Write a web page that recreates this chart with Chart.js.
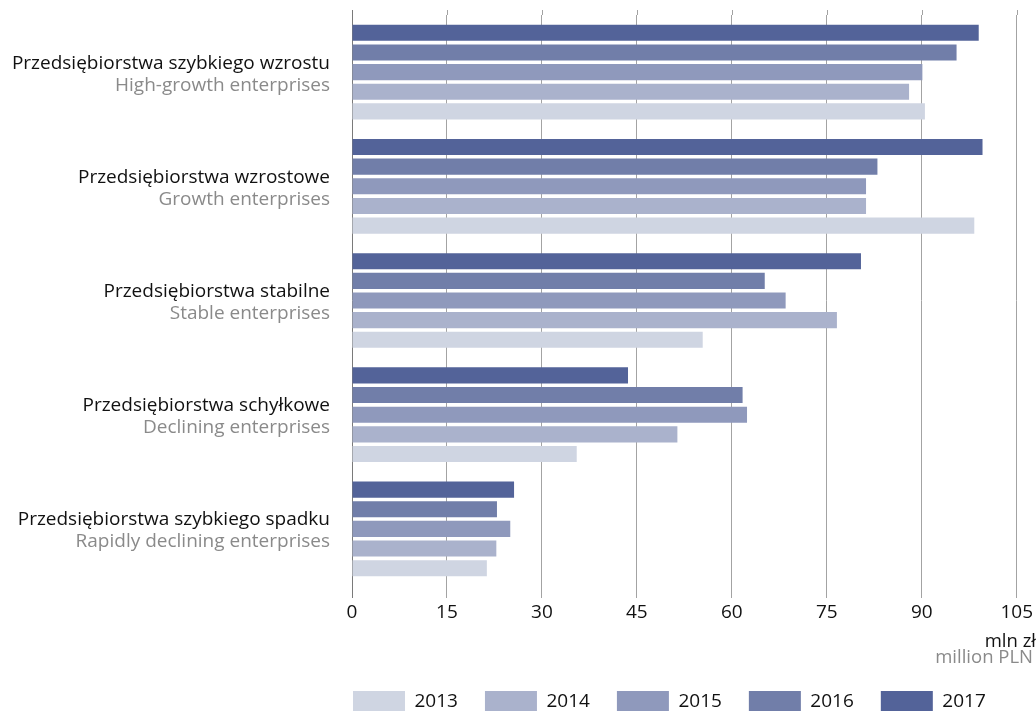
<!DOCTYPE html>
<html>
<head>
<meta charset="utf-8">
<script src="https://cdn.jsdelivr.net/npm/chart.js@4"></script>
<style>
  html, body { margin: 0; padding: 0; background: #fff; }
  #wrap { width: 1036px; height: 711px; }
</style>
</head>
<body>
<div id="wrap"><canvas id="enterprisesChart"></canvas></div>
<script>
const categoriesPl = ['Przedsiębiorstwa szybkiego wzrostu', 'Przedsiębiorstwa wzrostowe', 'Przedsiębiorstwa stabilne', 'Przedsiębiorstwa schyłkowe', 'Przedsiębiorstwa szybkiego spadku']
const categoriesEn = ['High-growth enterprises', 'Growth enterprises', 'Stable enterprises', 'Declining enterprises', 'Rapidly declining enterprises']

const values2013 = [90.5, 98.3, 55.4, 35.5, 21.3]
const values2014 = [88.0, 81.2, 76.6, 51.4, 22.8]
const values2015 = [90.1, 81.2, 68.5, 62.4, 25.0]
const values2016 = [95.5, 83.0, 65.2, 61.7, 22.9]
const values2017 = [99.0, 99.6, 80.4, 43.6, 25.6]

const xTicks = [0, 15, 30, 45, 60, 75, 90, 105]
const unitPl = 'mln zł'
const unitEn = 'million PLN'

const FONT = '"Open Sans", sans-serif'

// two-colour category labels, unit label, gridlines running a bit above the bars
const labelsPlugin = {
    id: 'labelsPlugin',
    beforeDatasetsDraw(chart) {
        const {ctx, chartArea, scales: {x}} = chart
        ctx.save()
        ctx.lineWidth = 1
        x.ticks.forEach((t, i) => {
            const px = Math.round(x.getPixelForValue(t.value)) + 0.5
            ctx.strokeStyle = i === 0 ? '#7a7a7a' : '#a3a3a3'
            ctx.beginPath()
            ctx.moveTo(px, 10)
            ctx.lineTo(px, chartArea.top)
            ctx.stroke()
        })
        ctx.restore()
    },
    afterDraw(chart) {
        const {ctx, scales: {y}} = chart
        ctx.save()
        ctx.textAlign = 'right'
        ctx.textBaseline = 'alphabetic'
        ctx.font = '19px ' + FONT
        categoriesPl.forEach((name, i) => {
            const cy = y.getPixelForTick(i)
            ctx.fillStyle = '#111'
            ctx.fillText(name, 330, cy - 3.5)
            ctx.fillStyle = '#8a8a8a'
            ctx.fillText(categoriesEn[i], 330, cy + 18.5)
        })
        ctx.font = '18.5px ' + FONT
        ctx.fillStyle = '#111'
        ctx.fillText(unitPl, 1036, 647)
        ctx.fillStyle = '#8a8a8a'
        ctx.fillText(unitEn, 1033, 663)
        ctx.restore()
    }
}

const init = () => {
    const ctx = document.getElementById('enterprisesChart')

    new Chart(ctx, {
        type: 'bar',
        data: {
            labels: categoriesPl,
            datasets: [
                {label: '2017', data: values2017, backgroundColor: '#536399'},
                {label: '2016', data: values2016, backgroundColor: '#717ea9'},
                {label: '2015', data: values2015, backgroundColor: '#8f99bc'},
                {label: '2014', data: values2014, backgroundColor: '#aab2cc'},
                {label: '2013', data: values2013, backgroundColor: '#cfd5e2'},
            ]
        },
        options: {
            indexAxis: 'y',
            responsive: true,
            maintainAspectRatio: false,
            animation: false,
            datasets: {
                bar: {
                    categoryPercentage: 0.86,
                    barPercentage: 0.82,
                }
            },
            layout: {
                padding: {left: 326, right: 0, top: 15, bottom: -12}
            },
            scales: {
                x: {
                    min: 0,
                    max: 105,
                    afterBuildTicks: (scale) => {
                        scale.ticks = xTicks.map(v => ({value: v}))
                    },
                    afterFit: (scale) => {
                        scale.height = 78
                    },
                    border: {display: false},
                    grid: {
                        color: (c) => c.index === 0 ? '#7a7a7a' : '#a3a3a3',
                        lineWidth: 1,
                        tickLength: 12,
                    },
                    ticks: {
                        color: '#111',
                        font: {family: FONT, size: 19},
                        padding: 3,
                        maxRotation: 0,
                    }
                },
                y: {
                    afterFit: (scale) => {
                        scale.width = 26
                    },
                    border: {display: false},
                    grid: {display: false},
                    ticks: {display: false},
                }
            },
            plugins: {
                tooltip: {enabled: false},
                legend: {
                    position: 'bottom',
                    align: 'start',
                    reverse: true,
                    labels: {
                        boxWidth: 52,
                        boxHeight: 22,
                        padding: 27,
                        color: '#111',
                        font: {family: FONT, size: 19},
                    }
                }
            }
        },
        plugins: [labelsPlugin]
    })
}

document.addEventListener('DOMContentLoaded', init)
</script>
</body>
</html>
